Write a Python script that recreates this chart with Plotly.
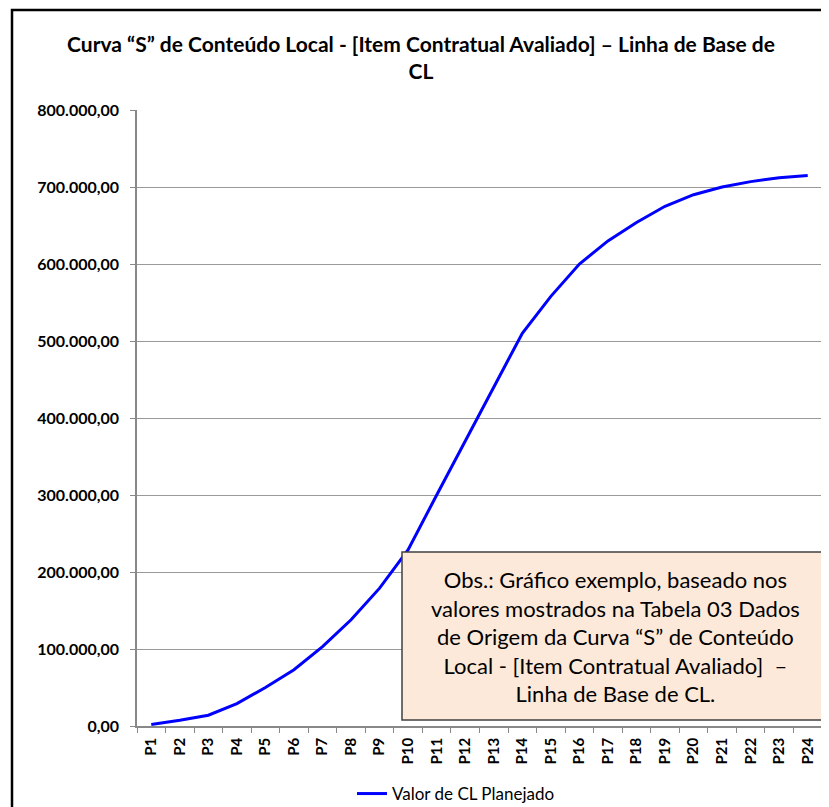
import plotly.graph_objects as go

categories = [f"P{i}" for i in range(1, 25)]
valores = [2000, 7500, 14000, 29000, 50000, 73000, 103000, 138000, 179000, 229000,
           300000, 370000, 440000, 510000, 558000, 600000, 630000, 654000, 675000, 690000,
           700000, 707000, 712000, 715000]
serie_nome = "Valor de CL Planejado"
titulo = "Curva “S” de Conteúdo Local - [Item Contratual Avaliado] – Linha de Base de<br>CL"
obs = ("Obs.: Gráfico exemplo, baseado nos<br>valores mostrados na Tabela 03 Dados<br>"
       "de Origem da Curva “S” de Conteúdo<br>Local - [Item Contratual Avaliado]  –<br>Linha de Base de CL.")

OFF = 8  # page body margin
W, H = 829 - OFF, 807 - OFF
L, R, T, B = 137 - OFF, 7, 110 - OFF, 81
pw, ph = W - L - R, H - T - B


def px(x):
    return (x - OFF - L) / pw


def py(y):
    return (H - B - (y - OFF)) / ph


def cx(x):
    return (x - OFF) / W


def cy(y):
    return 1 - (y - OFF) / H


FONT = "Lato"

fig = go.Figure()
fig.add_trace(go.Scatter(x=categories, y=valores, mode="lines", name=serie_nome,
                         line=dict(color="#0000FF", width=3)))

fig.update_layout(
    width=W, height=H,
    margin=dict(l=L, r=R, t=T, b=B, autoexpand=False),
    paper_bgcolor="white", plot_bgcolor="white",
    separators=",.",
    font=dict(family=FONT, color="black"),
    title=dict(text=titulo, x=cx(421), xanchor="center", xref="container",
               y=cy(52), yanchor="top",
               font=dict(family=FONT, size=21, color="black", weight="bold")),
    showlegend=True,
    legend=dict(orientation="h", xref="container", yref="container",
                x=cx(352), xanchor="left", y=cy(794), yanchor="middle",
                font=dict(family=FONT, size=17, color="black"), bgcolor="rgba(0,0,0,0)"),
    xaxis=dict(type="category", tickangle=-90, showgrid=False, showline=True,
               linecolor="#888888", linewidth=1.5, ticks="outside", tickson="boundaries",
               ticklen=5, tickcolor="#888888", ticklabelstandoff=4,
               tickfont=dict(family=FONT, size=15, color="black", weight="bold"),
               range=[-0.5, 23.5]),
    yaxis=dict(range=[0, 800000], dtick=100000, tickformat=",.2f", showgrid=True,
               gridcolor="#999999", gridwidth=1, showline=True, linecolor="#888888",
               linewidth=1.5, ticks="outside", ticklen=5, tickcolor="#888888",
               zeroline=False, ticklabelstandoff=8,
               tickfont=dict(family=FONT, size=16, color="black", weight="bold")),
    shapes=[
        dict(type="rect", xref="paper", yref="paper", x0=px(402), x1=px(828),
             y0=py(720), y1=py(552), fillcolor="#FDE9D9",
             line=dict(color="#404040", width=1.5), layer="above"),
        dict(type="rect", xref="paper", yref="paper", x0=px(12), x1=px(840),
             y0=py(820), y1=py(10), fillcolor="rgba(0,0,0,0)",
             line=dict(color="black", width=2.5), layer="above"),
    ],
    annotations=[
        dict(text=obs, xref="paper", yref="paper", x=px(615), y=py(636),
             xanchor="center", yanchor="middle", showarrow=False, align="center",
             font=dict(family=FONT, size=22, color="black")),
    ],
)

fig.write_html("out.html")
